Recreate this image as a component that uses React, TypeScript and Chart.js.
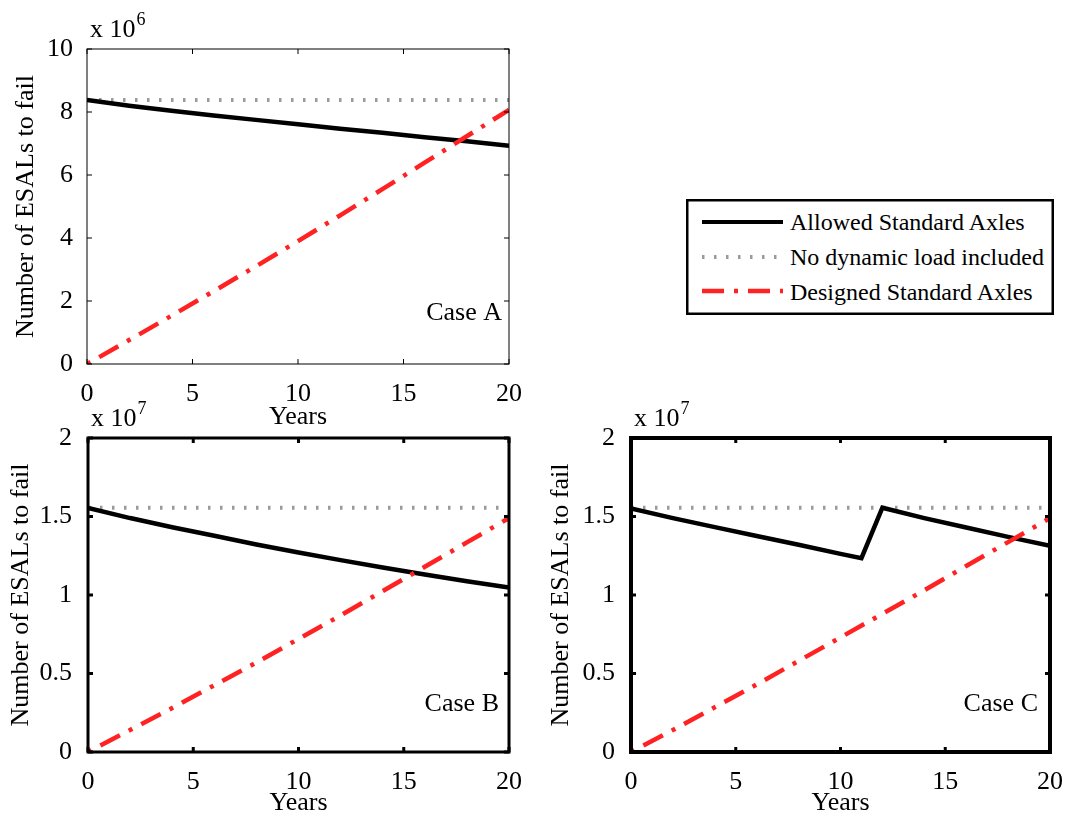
import React, { useEffect, useRef } from 'react';
import { Chart, registerables } from 'chart.js';

Chart.register(...registerables);

const FONT = "'Liberation Serif', 'Times New Roman', Times, serif";

// ---------- data ----------
const seriesNames = ['Allowed Standard Axles', 'No dynamic load included', 'Designed Standard Axles'];

const xTicks = [0, 5, 10, 15, 20];
const yTicksA = [0, 2, 4, 6, 8, 10];
const yTicksBC = [0, 0.5, 1, 1.5, 2];

// Case A (x 10^6)
const yearsA = [0, 2, 4, 6, 8, 10, 12, 14, 16, 18, 20];
const allowedA = [8.38, 8.2, 8.04, 7.89, 7.75, 7.61, 7.47, 7.34, 7.2, 7.07, 6.93];
const designedA = [0, 0.76, 1.53, 2.31, 3.1, 3.9, 4.72, 5.55, 6.39, 7.23, 8.07];
const noDynA = 8.38;

// Case B (x 10^7)
const yearsB = [0, 2, 4, 6, 8, 10, 12, 14, 16, 18, 20];
const allowedB = [1.555, 1.49, 1.432, 1.377, 1.322, 1.271, 1.222, 1.175, 1.13, 1.088, 1.048];
const designedB = [0, 0.14, 0.28, 0.425, 0.57, 0.72, 0.87, 1.025, 1.18, 1.335, 1.49];
const noDynB = 1.555;

// Case C (x 10^7)
const yearsCAllowed = [0, 2, 4, 6, 8, 10, 11, 12, 14, 16, 18, 20];
const allowedC = [1.552, 1.49, 1.432, 1.376, 1.32, 1.262, 1.235, 1.556, 1.49, 1.43, 1.37, 1.313];
const yearsC = [0, 2, 4, 6, 8, 10, 12, 14, 16, 18, 20];
const designedC = [0, 0.14, 0.285, 0.43, 0.58, 0.73, 0.88, 1.03, 1.185, 1.337, 1.49];
const noDynC = 1.555;

// ---------- styles ----------
const RED = '#ff2222';
const GRAY = '#9a9a9a';
const RED_DASH = [22, 10, 4, 10];
const GRAY_DASH = [2.5, 9.5];

const decoPlugin = {
  id: 'deco',
  afterDraw(chart: any, _args: any, opts: any) {
    const { ctx, chartArea: a } = chart;
    const xs = chart.scales.x;
    const ys = chart.scales.y;
    ctx.save();
    ctx.strokeStyle = '#000';
    ctx.lineWidth = opts.tickWidth;
    ctx.beginPath();
    xs.ticks.forEach((t: any) => {
      const p = xs.getPixelForValue(t.value);
      ctx.moveTo(p, a.bottom);
      ctx.lineTo(p, a.bottom - opts.tickLen);
      ctx.moveTo(p, a.top);
      ctx.lineTo(p, a.top + opts.tickLen);
    });
    ys.ticks.forEach((t: any) => {
      const p = ys.getPixelForValue(t.value);
      ctx.moveTo(a.left, p);
      ctx.lineTo(a.left + opts.tickLen, p);
      ctx.moveTo(a.right, p);
      ctx.lineTo(a.right - opts.tickLen, p);
    });
    ctx.stroke();
    ctx.lineWidth = opts.frameWidth;
    ctx.strokeRect(a.left, a.top, a.right - a.left, a.bottom - a.top);

    ctx.fillStyle = '#000';
    ctx.textAlign = 'left';
    ctx.textBaseline = 'alphabetic';
    ctx.font = `26px ${FONT}`;
    const ex = a.left + 3;
    const ey = a.top - 12;
    ctx.fillText('x 10', ex, ey);
    const w = ctx.measureText('x 10').width;
    ctx.font = `18px ${FONT}`;
    ctx.fillText(opts.exp, ex + w + 1, ey - 12);

    ctx.font = `26px ${FONT}`;
    ctx.textAlign = 'right';
    ctx.fillText(opts.caseLabel, a.right - opts.caseDx, a.bottom - opts.caseDy);
    ctx.restore();
  },
};

type PanelCfg = {
  left: number; top: number; width: number; height: number;
  plotL: number; plotT: number; plotR: number; plotB: number;
  yMax: number; yTicks: number[]; exp: string; caseLabel: string;
  frameWidth: number; tickWidth: number; tickLen: number; caseDx: number; caseDy: number;
  yTitlePad: number; xTitlePad: number; yTickPad: number; xTickPad: number;
  allowedX: number[]; allowed: number[]; designedX: number[]; designed: number[]; noDyn: number;
};

const panels: PanelCfg[] = [
  {
    left: 0, top: 0, width: 540, height: 440,
    plotL: 87, plotT: 49, plotR: 509, plotB: 364,
    yMax: 10, yTicks: yTicksA, exp: '6', caseLabel: 'Case A',
    frameWidth: 1, tickWidth: 1, tickLen: 5, caseDx: 7, caseDy: 44,
    yTitlePad: 11, xTitlePad: 7, yTickPad: 6, xTickPad: 7,
    allowedX: yearsA, allowed: allowedA, designedX: yearsA, designed: designedA, noDyn: noDynA,
  },
  {
    left: 0, top: 380, width: 540, height: 443,
    plotL: 88, plotT: 438, plotR: 509, plotB: 752,
    yMax: 2, yTicks: yTicksBC, exp: '7', caseLabel: 'Case B',
    frameWidth: 3, tickWidth: 3, tickLen: 5, caseDx: 10, caseDy: 41,
    yTitlePad: 6, xTitlePad: 4, yTickPad: 8, xTickPad: 7,
    allowedX: yearsB, allowed: allowedB, designedX: yearsB, designed: designedB, noDyn: noDynB,
  },
  {
    left: 540, top: 380, width: 530, height: 443,
    plotL: 631, plotT: 438, plotR: 1050, plotB: 752,
    yMax: 2, yTicks: yTicksBC, exp: '7', caseLabel: 'Case C',
    frameWidth: 4, tickWidth: 3, tickLen: 5, caseDx: 12, caseDy: 41,
    yTitlePad: 6, xTitlePad: 4, yTickPad: 8, xTickPad: 7,
    allowedX: yearsCAllowed, allowed: allowedC, designedX: yearsC, designed: designedC, noDyn: noDynC,
  },
];

function Panel({ cfg }: { cfg: PanelCfg }) {
  const ref = useRef<HTMLCanvasElement | null>(null);
  useEffect(() => {
    if (!ref.current) return;
    const yAxisW = cfg.plotL - cfg.left;
    const xAxisH = cfg.top + cfg.height - cfg.plotB;
    const chart = new Chart(ref.current, {
      type: 'line',
      data: {
        datasets: [
          {
            label: seriesNames[2],
            data: cfg.designedX.map((x, i) => ({ x, y: cfg.designed[i] })),
            borderColor: RED,
            borderWidth: 4.5,
            borderDash: RED_DASH,
            borderDashOffset: 32,
            pointRadius: 0,
            fill: false,
            tension: 0,
          },
          {
            label: seriesNames[0],
            data: cfg.allowedX.map((x, i) => ({ x, y: cfg.allowed[i] })),
            borderColor: '#000',
            borderWidth: 4.5,
            pointRadius: 0,
            fill: false,
            tension: 0,
          },
          {
            label: seriesNames[1],
            data: [{ x: 0, y: cfg.noDyn }, { x: 20, y: cfg.noDyn }],
            borderColor: GRAY,
            borderWidth: 4,
            borderDash: GRAY_DASH,
            pointRadius: 0,
            fill: false,
            tension: 0,
          },
        ],
      },
      options: {
        responsive: false,
        animation: false,
        layout: { padding: { left: 0, top: cfg.plotT - cfg.top, right: cfg.left + cfg.width - cfg.plotR, bottom: 0 } },
        plugins: {
          legend: { display: false },
          tooltip: { enabled: false },
          deco: {
            exp: cfg.exp, caseLabel: cfg.caseLabel, frameWidth: cfg.frameWidth, tickWidth: cfg.tickWidth,
            tickLen: cfg.tickLen, caseDx: cfg.caseDx, caseDy: cfg.caseDy,
          },
        } as any,
        scales: {
          x: {
            type: 'linear',
            min: 0,
            max: 20,
            afterBuildTicks: (s: any) => { s.ticks = xTicks.map((v) => ({ value: v })); },
            afterFit: (s: any) => { s.height = xAxisH; },
            grid: { display: false },
            border: { display: false },
            ticks: {
              color: '#000', padding: cfg.xTickPad, maxRotation: 0, autoSkip: false,
              font: { family: FONT, size: 26 },
              callback: (v: any) => String(v),
            },
            title: {
              display: true, text: 'Years', color: '#000',
              font: { family: FONT, size: 26 },
              padding: { top: 0, bottom: cfg.xTitlePad },
            },
          },
          y: {
            type: 'linear',
            min: 0,
            max: cfg.yMax,
            afterBuildTicks: (s: any) => { s.ticks = cfg.yTicks.map((v) => ({ value: v })); },
            afterFit: (s: any) => { s.width = yAxisW; },
            grid: { display: false },
            border: { display: false },
            ticks: {
              color: '#000', padding: cfg.yTickPad, autoSkip: false,
              font: { family: FONT, size: 26 },
              callback: (v: any) => String(v),
            },
            title: {
              display: true, text: 'Number of ESALs to fail', color: '#000',
              font: { family: FONT, size: 26 },
              padding: { top: cfg.yTitlePad, bottom: 0 },
            },
          },
        },
      } as any,
      plugins: [decoPlugin as any],
    });
    return () => chart.destroy();
  }, [cfg]);
  return (
    <canvas
      ref={ref}
      width={cfg.width}
      height={cfg.height}
      style={{ position: 'absolute', left: cfg.left, top: cfg.top, width: cfg.width, height: cfg.height }}
    />
  );
}

const legendRows = [
  { name: seriesNames[0], color: '#000', width: 4, dash: undefined as string | undefined, lineY: 23, textY: 23 },
  { name: seriesNames[1], color: GRAY, width: 4, dash: GRAY_DASH.join(' '), lineY: 58, textY: 58 },
  { name: seriesNames[2], color: RED, width: 4.5, dash: RED_DASH.join(' '), lineY: 92, textY: 93 },
];

function Legend() {
  return (
    <svg style={{ position: 'absolute', left: 686, top: 199 }} width={368} height={116}>
      <rect x={1.25} y={1.25} width={365.5} height={113.5} fill="#fff" stroke="#000" strokeWidth={2.5} />
      {legendRows.map((r) => (
        <g key={r.name}>
          <line x1={16} x2={97} y1={r.lineY} y2={r.lineY} stroke={r.color} strokeWidth={r.width} strokeDasharray={r.dash} />
          <text x={104} y={r.textY} dominantBaseline="central" fontFamily={FONT} fontSize={24} fill="#000">
            {r.name}
          </text>
        </g>
      ))}
    </svg>
  );
}

export default function App() {
  return (
    <div style={{ position: 'absolute', left: 0, top: 0, width: 1070, height: 823, background: '#fff' }}>
      {panels.map((p) => (
        <Panel key={p.caseLabel} cfg={p} />
      ))}
      <Legend />
    </div>
  );
}
